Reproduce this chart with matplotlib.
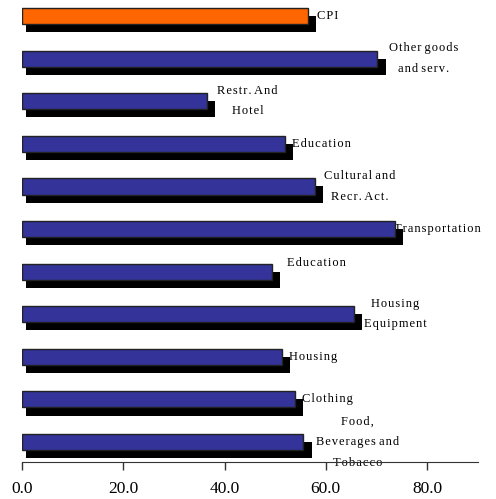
import matplotlib
matplotlib.use("Agg")
import matplotlib.pyplot as plt

# categories listed bottom -> top
categories = [
    "Food,\nBeverages and\nTobacco",
    "Clothing",
    "Housing",
    "Housing\nEquipment",
    "Education",
    "Transportation",
    "Cultural and\nRecr. Act.",
    "Education",
    "Restr. And\nHotel",
    "Other goods\nand serv.",
    "CPI",
]
values = [55.6, 54.0, 51.3, 65.5, 49.3, 73.7, 57.9, 52.0, 36.6, 70.2, 56.4]
xticks = [0, 20, 40, 60, 80]

# label placement: offset from bar end (points) and alignment
label_offsets = [(39, 0), (5, 0), (5.5, 0), (30, 0), (11, 6), (-1, 0), (32, 0), (5, 0), (29, 0), (33, 0), (6.5, 0)]
label_align = ["center", "left", "left", "center", "left", "left", "center", "left", "center", "center", "left"]

BLUE = "#333399"
ORANGE = "#ff6600"
SHADOW_DX = 0.8   # data units
SHADOW_DY = 0.19
H = 0.38


def spaced(s):
    # the source chart has loose letter spacing (but tight word gaps)
    out = []
    for line in s.split("\n"):
        words = ["\u200a".join(w) for w in line.split(" ")]
        out.append(" ".join(words))
    return "\n".join(out)


fig = plt.figure(figsize=(4.96, 4.99), dpi=100)
ax = fig.add_axes([0.0444, 0.0741, 0.9186, 0.9259])

for i, (cat, v) in enumerate(zip(categories, values)):
    color = ORANGE if cat == "CPI" else BLUE
    # black drop shadow behind the bar
    ax.barh(i - SHADOW_DY, v + SHADOW_DX, left=SHADOW_DX, height=H,
            color="black", edgecolor="none", zorder=3)
    ax.barh(i, v, height=H, color=color, edgecolor="#222222",
            linewidth=1.0, zorder=4)
    dx, dy = label_offsets[i]
    ax.annotate(spaced(cat), xy=(v, i), xytext=(dx, dy), textcoords="offset points",
                ha=label_align[i], va="center", multialignment="center",
                fontsize=9, family=["Liberation Serif", "DejaVu Serif"],
                linespacing=1.95, zorder=2, annotation_clip=False)

ax.set_xlim(0, 90)
ax.set_ylim(-0.47, 10.376)
ax.set_xticks(xticks)
ax.set_xticklabels([f"{t:.1f}" for t in xticks], family="Liberation Serif", fontsize=12.5)
ax.tick_params(axis="x", direction="out", length=6, width=1, color="#333333", pad=8)
ax.set_yticks([])
for s in ["left", "right", "top"]:
    ax.spines[s].set_visible(False)
ax.spines["bottom"].set_color("#333333")
ax.patch.set_visible(False)

fig.savefig("out.png", dpi=100)
